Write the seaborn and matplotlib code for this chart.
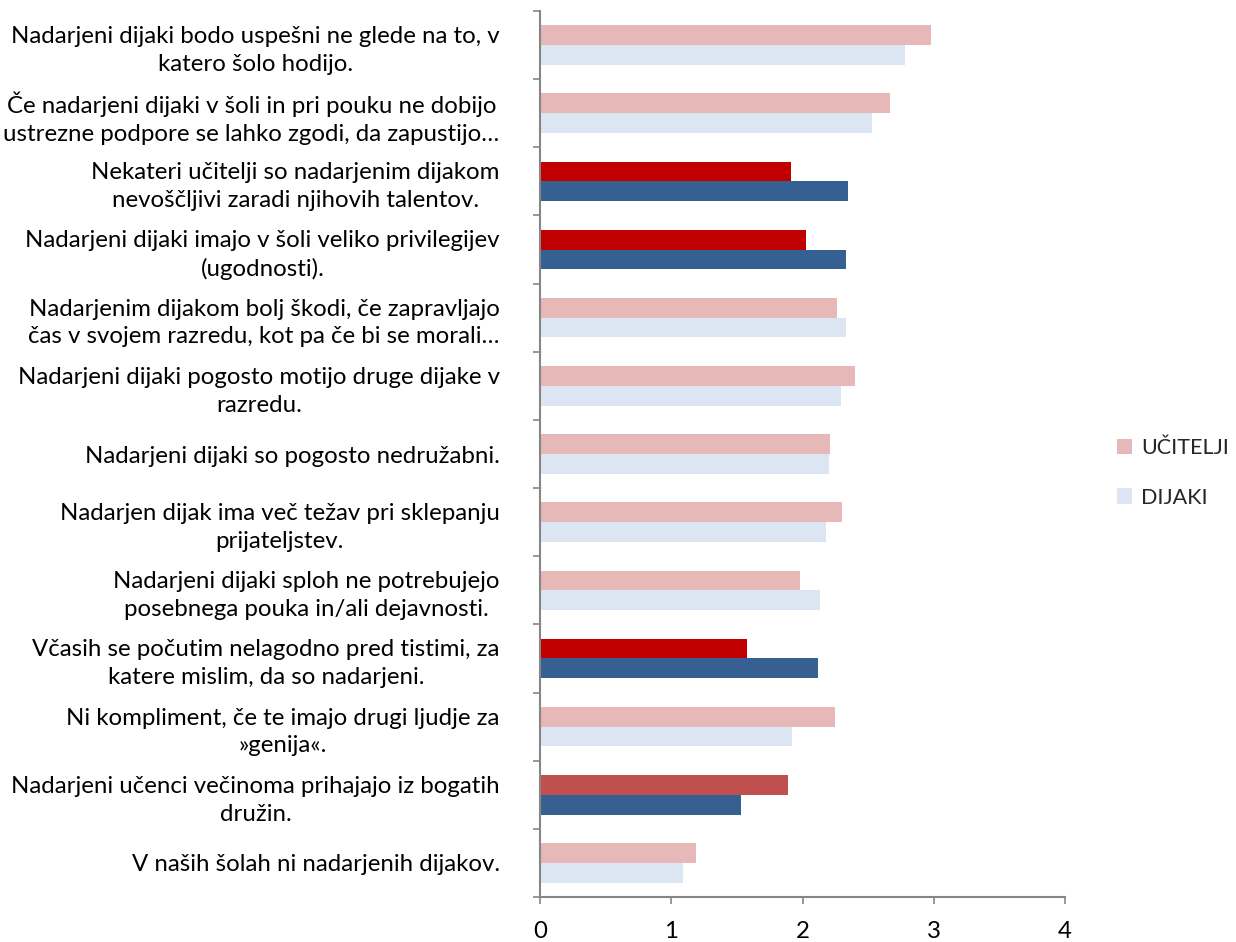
import matplotlib
matplotlib.use("Agg")
import matplotlib.pyplot as plt
import seaborn as sns
import pandas as pd
from matplotlib.patches import Patch
from matplotlib.ticker import FixedLocator

categories = [
    "Nadarjeni dijaki bodo uspešni ne glede na to, v\nkatero šolo hodijo.",
    "Če nadarjeni dijaki v šoli in pri pouku ne dobijo\nustrezne podpore se lahko zgodi, da zapustijo…",
    "Nekateri učitelji so nadarjenim dijakom\nnevoščljivi zaradi njihovih talentov.",
    "Nadarjeni dijaki imajo v šoli veliko privilegijev\n(ugodnosti).",
    "Nadarjenim dijakom bolj škodi, če zapravljajo\nčas v svojem razredu, kot pa če bi se morali…",
    "Nadarjeni dijaki pogosto motijo druge dijake v\nrazredu.",
    "Nadarjeni dijaki so pogosto nedružabni.",
    "Nadarjen dijak ima več težav pri sklepanju\nprijateljstev.",
    "Nadarjeni dijaki sploh ne potrebujejo\nposebnega pouka in/ali dejavnosti.",
    "Včasih se počutim nelagodno pred tistimi, za\nkatere mislim, da so nadarjeni.",
    "Ni kompliment, če te imajo drugi ljudje za\n»genija«.",
    "Nadarjeni učenci večinoma prihajajo iz bogatih\ndružin.",
    "V naših šolah ni nadarjenih dijakov.",
]
ucitelji = [2.98, 2.67, 1.91, 2.03, 2.26, 2.40, 2.21, 2.30, 1.98, 1.58, 2.25, 1.89, 1.19]
dijaki = [2.78, 2.53, 2.35, 2.33, 2.33, 2.29, 2.20, 2.18, 2.13, 2.12, 1.92, 1.53, 1.09]
series = ["UČITELJI", "DIJAKI"]
# highlight: 0 = normal, 1 = strong red, 2 = soft red
highlight = [0, 0, 1, 1, 0, 0, 0, 0, 0, 1, 0, 2, 0]
x_ticks = [0, 1, 2, 3, 4]

light_colors = {"UČITELJI": "#E6B9B8", "DIJAKI": "#DCE6F2"}
strong_u = {1: "#C00000", 2: "#C0504D"}
strong_d = "#376092"

df = pd.DataFrame({
    "Trditev": categories * 2,
    "Vrednost": ucitelji + dijaki,
    "Skupina": [series[0]] * len(categories) + [series[1]] * len(categories),
})

sns.set_style("white")
plt.rcParams["font.family"] = ["Lato", "DejaVu Sans"]
FS = 17.3

fig = plt.figure(figsize=(12.36, 9.42), dpi=100)
ax = fig.add_axes([540 / 1236, 1 - 897 / 942, 525 / 1236, 886 / 942])

sns.barplot(data=df, y="Trditev", x="Vrednost", hue="Skupina", order=categories,
            hue_order=series, palette=light_colors, width=0.58, dodge=True,
            orient="h", ax=ax, legend=False, saturation=1)

# recolor highlighted bars
for hue_name, cont in zip(series, ax.containers):
    for i, bar in enumerate(cont):
        bar.set_edgecolor("none")
        if highlight[i]:
            if hue_name == "UČITELJI":
                bar.set_facecolor(strong_u[highlight[i]])
            else:
                bar.set_facecolor(strong_d)

ax.set_xlim(0, 4)
ax.set_ylim(len(categories) - 0.5, -0.5)
ax.set_xticks(x_ticks)
ax.set_xticklabels([str(t) for t in x_ticks], fontsize=FS)
ax.set_xlabel("")
ax.set_ylabel("")

ax.yaxis.set_minor_locator(FixedLocator([i - 0.5 for i in range(len(categories) + 1)]))
ax.tick_params(axis="y", which="major", length=0, pad=29, labelsize=FS)
ax.tick_params(axis="y", which="minor", length=5, width=1.2, color="#868686", left=True)
ax.tick_params(axis="x", which="major", length=5, width=1.2, color="#868686", bottom=True,
               pad=12, labelcolor="black")
for lab in ax.get_yticklabels():
    lab.set_multialignment("center")
    lab.set_linespacing(1.4)
    lab.set_color("black")

for s in ["top", "right"]:
    ax.spines[s].set_visible(False)
for s in ["left", "bottom"]:
    ax.spines[s].set_color("#868686")
    ax.spines[s].set_linewidth(1.5)
ax.grid(False)

handles = [Patch(facecolor=light_colors[s], edgecolor="none", label=s) for s in series]
fig.legend(handles=handles, loc="center left", bbox_to_anchor=(1102 / 1236, 1 - 473 / 942),
           frameon=False, fontsize=15.5, handlelength=0.7, handleheight=0.7,
           handletextpad=0.4, labelspacing=1.35, borderpad=0.2)

fig.savefig("out.png", dpi=100, facecolor="white")
